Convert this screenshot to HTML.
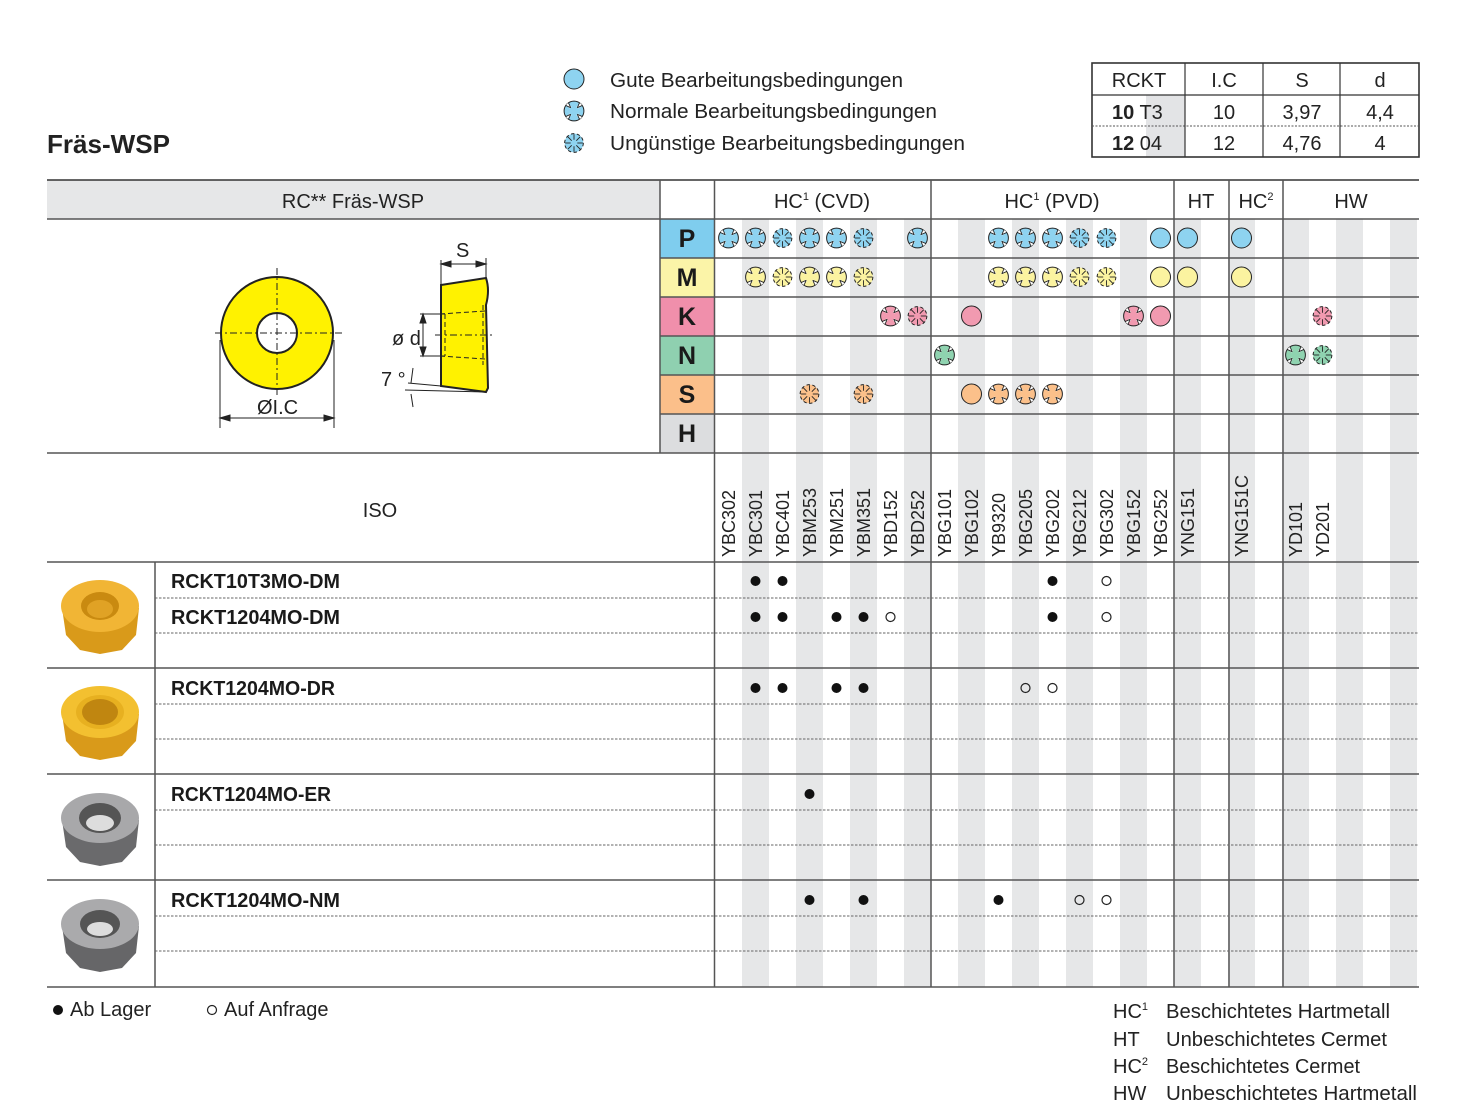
<!DOCTYPE html>
<html><head><meta charset="utf-8"><style>
html,body{margin:0;padding:0;background:#fff;}
svg{display:block;font-family:"Liberation Sans",sans-serif;}
</style></head><body>
<svg width="1458" height="1115" viewBox="0 0 1458 1115" xmlns="http://www.w3.org/2000/svg">
<defs>
<g id="nm" transform="scale(1.1)"><circle r="9" stroke="#222" stroke-width="0.9"/>
<g stroke="#fff" stroke-width="2.2"><line x1="6.4" y1="6.4" x2="3" y2="3"/><line x1="-6.4" y1="6.4" x2="-3" y2="3"/><line x1="6.4" y1="-6.4" x2="3" y2="-3"/><line x1="-6.4" y1="-6.4" x2="-3" y2="-3"/></g>
<g stroke="#222" stroke-width="0.8"><line x1="7.5" y1="5" x2="3" y2="3"/><line x1="5" y1="7.5" x2="3" y2="3"/><line x1="-7.5" y1="5" x2="-3" y2="3"/><line x1="-5" y1="7.5" x2="-3" y2="3"/><line x1="7.5" y1="-5" x2="3" y2="-3"/><line x1="5" y1="-7.5" x2="3" y2="-3"/><line x1="-7.5" y1="-5" x2="-3" y2="-3"/><line x1="-5" y1="-7.5" x2="-3" y2="-3"/></g></g>
<g id="ug" transform="scale(1.1)"><circle r="8.5" stroke="#222" stroke-width="0.9" stroke-dasharray="3 2.3"/>
<g stroke="#222" stroke-width="0.8"><line x1="0" y1="-8" x2="0" y2="-3"/><line x1="0" y1="8" x2="0" y2="3"/><line x1="8" y1="0" x2="3" y2="0"/><line x1="-8" y1="0" x2="-3" y2="0"/><line x1="5.7" y1="5.7" x2="2.1" y2="2.1"/><line x1="-5.7" y1="5.7" x2="-2.1" y2="2.1"/><line x1="5.7" y1="-5.7" x2="2.1" y2="-2.1"/><line x1="-5.7" y1="-5.7" x2="-2.1" y2="-2.1"/></g></g>
<g id="gd"><circle r="10" stroke="#222" stroke-width="1"/></g>
</defs>

<text x="47" y="153" font-size="26" font-weight="bold" fill="#222" textLength="123" lengthAdjust="spacingAndGlyphs">Fräs-WSP</text>

<use href="#gd" x="574" y="79" fill="#8ed3f0"/>
<use href="#nm" x="574" y="111" fill="#8ed3f0"/>
<use href="#ug" x="574" y="143" fill="#8ed3f0"/>
<g font-size="20" fill="#222">
<text x="610" y="87" textLength="293" lengthAdjust="spacingAndGlyphs">Gute Bearbeitungsbedingungen</text>
<text x="610" y="118" textLength="327" lengthAdjust="spacingAndGlyphs">Normale Bearbeitungsbedingungen</text>
<text x="610" y="150" textLength="355" lengthAdjust="spacingAndGlyphs">Ungünstige Bearbeitungsbedingungen</text>
</g>

<rect x="1146" y="95" width="39" height="62" fill="#e3e4e6"/>
<rect x="1092" y="63" width="327" height="94" fill="none" stroke="#333" stroke-width="1.6"/>
<line x1="1092" y1="95" x2="1419" y2="95" stroke="#333" stroke-width="1.2"/>
<line x1="1092" y1="126" x2="1419" y2="126" stroke="#555" stroke-width="1" stroke-dasharray="2 1.5"/>
<g stroke="#333" stroke-width="1.2"><line x1="1185" y1="63" x2="1185" y2="157"/><line x1="1263" y1="63" x2="1263" y2="157"/><line x1="1340" y1="63" x2="1340" y2="157"/></g>
<g font-size="20" fill="#222" text-anchor="middle">
<text x="1139" y="87">RCKT</text><text x="1224" y="87">I.C</text><text x="1302" y="87">S</text><text x="1380" y="87">d</text>
<text x="1224" y="119">10</text><text x="1302" y="119">3,97</text><text x="1380" y="119">4,4</text>
<text x="1224" y="150">12</text><text x="1302" y="150">4,76</text><text x="1380" y="150">4</text>
</g>
<g font-size="20" fill="#222"><text x="1112" y="119"><tspan font-weight="bold">10</tspan> T3</text><text x="1112" y="150"><tspan font-weight="bold">12</tspan> 04</text></g>

<rect x="47" y="180" width="613" height="39" fill="#e6e7e8"/>
<g fill="#e6e7e8">
<rect x="742" y="219" width="27" height="768"/><rect x="796" y="219" width="27" height="768"/><rect x="850" y="219" width="27" height="768"/><rect x="904" y="219" width="27" height="768"/><rect x="958" y="219" width="27" height="768"/><rect x="1012" y="219" width="27" height="768"/><rect x="1066" y="219" width="27" height="768"/><rect x="1120" y="219" width="27" height="768"/><rect x="1174" y="219" width="27" height="768"/><rect x="1228" y="219" width="27" height="768"/><rect x="1282" y="219" width="27" height="768"/><rect x="1336" y="219" width="27" height="768"/><rect x="1390" y="219" width="27" height="768"/>
</g>
<rect x="660" y="219" width="54" height="39" fill="#7fcdee"/>
<rect x="660" y="258" width="54" height="39" fill="#fbf4a8"/>
<rect x="660" y="297" width="54" height="39" fill="#f08fab"/>
<rect x="660" y="336" width="54" height="39" fill="#8fd0b0"/>
<rect x="660" y="375" width="54" height="39" fill="#fbbf8a"/>
<rect x="660" y="414" width="54" height="39" fill="#dcdddf"/>
<g font-size="25" font-weight="bold" fill="#1a1a1a" text-anchor="middle">
<text x="687" y="247">P</text><text x="687" y="286">M</text><text x="687" y="325">K</text><text x="687" y="364">N</text><text x="687" y="403">S</text><text x="687" y="442">H</text>
</g>

<g stroke="#555" stroke-width="1.5">
<line x1="47" y1="180" x2="1419" y2="180" stroke="#333"/>
<line x1="47" y1="219" x2="1419" y2="219"/>
<line x1="660" y1="258" x2="1419" y2="258"/><line x1="660" y1="297" x2="1419" y2="297"/><line x1="660" y1="336" x2="1419" y2="336"/><line x1="660" y1="375" x2="1419" y2="375"/><line x1="660" y1="414" x2="1419" y2="414"/>
<line x1="47" y1="453" x2="1419" y2="453"/>
<line x1="47" y1="562" x2="1419" y2="562"/>
<line x1="47" y1="668" x2="1419" y2="668"/><line x1="47" y1="774" x2="1419" y2="774"/><line x1="47" y1="880" x2="1419" y2="880"/><line x1="47" y1="987" x2="1419" y2="987"/>
<line x1="660" y1="180" x2="660" y2="453"/>
<line x1="714.5" y1="180" x2="714.5" y2="987"/>
<line x1="931" y1="180" x2="931" y2="987"/><line x1="1174" y1="180" x2="1174" y2="987"/><line x1="1229" y1="180" x2="1229" y2="987"/><line x1="1283" y1="180" x2="1283" y2="987"/>
<line x1="155" y1="562" x2="155" y2="987"/>
</g>
<g stroke="#666" stroke-width="1" stroke-dasharray="2.5 1.5">
<line x1="155" y1="598" x2="1419" y2="598"/><line x1="155" y1="633" x2="1419" y2="633"/>
<line x1="155" y1="704" x2="1419" y2="704"/><line x1="155" y1="739" x2="1419" y2="739"/>
<line x1="155" y1="810" x2="1419" y2="810"/><line x1="155" y1="845" x2="1419" y2="845"/>
<line x1="155" y1="916" x2="1419" y2="916"/><line x1="155" y1="951" x2="1419" y2="951"/>
</g>

<g font-size="20" fill="#222" text-anchor="middle">
<text x="353" y="208">RC** Fräs-WSP</text>
<text x="822" y="208">HC<tspan font-size="11" dy="-8">1</tspan><tspan dy="8"> (CVD)</tspan></text>
<text x="1052" y="208">HC<tspan font-size="11" dy="-8">1</tspan><tspan dy="8"> (PVD)</tspan></text>
<text x="1201" y="208">HT</text>
<text x="1256" y="208">HC<tspan font-size="11" dy="-8">2</tspan></text>
<text x="1351" y="208">HW</text>
<text x="380" y="517">ISO</text>
</g>

<g font-size="18" fill="#222">
<text transform="translate(735,557) rotate(-90)">YBC302</text>
<text transform="translate(762,557) rotate(-90)">YBC301</text>
<text transform="translate(789,557) rotate(-90)">YBC401</text>
<text transform="translate(816,557) rotate(-90)">YBM253</text>
<text transform="translate(843,557) rotate(-90)">YBM251</text>
<text transform="translate(870,557) rotate(-90)">YBM351</text>
<text transform="translate(897,557) rotate(-90)">YBD152</text>
<text transform="translate(924,557) rotate(-90)">YBD252</text>
<text transform="translate(951,557) rotate(-90)">YBG101</text>
<text transform="translate(978,557) rotate(-90)">YBG102</text>
<text transform="translate(1005,557) rotate(-90)">YB9320</text>
<text transform="translate(1032,557) rotate(-90)">YBG205</text>
<text transform="translate(1059,557) rotate(-90)">YBG202</text>
<text transform="translate(1086,557) rotate(-90)">YBG212</text>
<text transform="translate(1113,557) rotate(-90)">YBG302</text>
<text transform="translate(1140,557) rotate(-90)">YBG152</text>
<text transform="translate(1167,557) rotate(-90)">YBG252</text>
<text transform="translate(1194,557) rotate(-90)">YNG151</text>
<text transform="translate(1248,557) rotate(-90)">YNG151C</text>
<text transform="translate(1302,557) rotate(-90)">YD101</text>
<text transform="translate(1329,557) rotate(-90)">YD201</text>
</g>

<g fill="#8ed3f0">
<use href="#nm" x="728.5" y="238"/><use href="#nm" x="755.5" y="238"/><use href="#ug" x="782.5" y="238"/><use href="#nm" x="809.5" y="238"/><use href="#nm" x="836.5" y="238"/><use href="#ug" x="863.5" y="238"/><use href="#nm" x="917.5" y="238"/>
<use href="#nm" x="998.5" y="238"/><use href="#nm" x="1025.5" y="238"/><use href="#nm" x="1052.5" y="238"/><use href="#ug" x="1079.5" y="238"/><use href="#ug" x="1106.5" y="238"/>
<use href="#gd" x="1160.5" y="238"/><use href="#gd" x="1187.5" y="238"/><use href="#gd" x="1241.5" y="238"/>
</g>
<g fill="#fbf3a0">
<use href="#nm" x="755.5" y="277"/><use href="#ug" x="782.5" y="277"/><use href="#nm" x="809.5" y="277"/><use href="#nm" x="836.5" y="277"/><use href="#ug" x="863.5" y="277"/>
<use href="#nm" x="998.5" y="277"/><use href="#nm" x="1025.5" y="277"/><use href="#nm" x="1052.5" y="277"/><use href="#ug" x="1079.5" y="277"/><use href="#ug" x="1106.5" y="277"/>
<use href="#gd" x="1160.5" y="277"/><use href="#gd" x="1187.5" y="277"/><use href="#gd" x="1241.5" y="277"/>
</g>
<g fill="#f19ab0">
<use href="#nm" x="890.5" y="316"/><use href="#ug" x="917.5" y="316"/><use href="#gd" x="971.5" y="316"/><use href="#nm" x="1133.5" y="316"/><use href="#gd" x="1160.5" y="316"/><use href="#ug" x="1322.5" y="316"/>
</g>
<g fill="#8fd3b0">
<use href="#nm" x="944.5" y="355"/><use href="#nm" x="1295.5" y="355"/><use href="#ug" x="1322.5" y="355"/>
</g>
<g fill="#fbc08a">
<use href="#ug" x="809.5" y="394"/><use href="#ug" x="863.5" y="394"/><use href="#gd" x="971.5" y="394"/><use href="#nm" x="998.5" y="394"/><use href="#nm" x="1025.5" y="394"/><use href="#nm" x="1052.5" y="394"/>
</g>

<g stroke="#222" stroke-width="1">
<circle cx="277" cy="333" r="56" fill="#fff200" stroke-width="2"/>
<circle cx="277" cy="333" r="20" fill="#fff" stroke-width="2"/>
<line x1="215" y1="333" x2="343" y2="333" stroke-dasharray="7 3 2 3"/>
<line x1="277" y1="268" x2="277" y2="398" stroke-dasharray="7 3 2 3"/>
<line x1="220" y1="340" x2="220" y2="428"/><line x1="334" y1="340" x2="334" y2="428"/>
<line x1="220" y1="418" x2="334" y2="418"/>
<path d="M220 418 l10 -3 v6z M334 418 l-10 -3 v6z" fill="#222"/>
<path d="M441 285 L486 278 Q490 290 486 305 L488 388 Q486 392 486 392 L441 386 Z" fill="#fff200" stroke-width="2"/>
<line x1="441" y1="260" x2="441" y2="285"/><line x1="486" y1="258" x2="486" y2="278"/>
<line x1="441" y1="264" x2="486" y2="264"/>
<path d="M441 264 l10 -3 v6z M486 264 l-10 -3 v6z" fill="#222"/>
<line x1="420" y1="314" x2="445" y2="314"/><line x1="420" y1="356" x2="445" y2="356"/>
<line x1="423" y1="314" x2="423" y2="356"/>
<path d="M423 314 l-3 9 h6z M423 356 l-3 -9 h6z" fill="#222"/>
<line x1="440" y1="314" x2="485" y2="311" stroke-dasharray="5 3"/><line x1="440" y1="356" x2="485" y2="359" stroke-dasharray="5 3"/>
<line x1="445" y1="314" x2="445" y2="356" stroke-dasharray="5 3"/><line x1="483" y1="305" x2="483" y2="365" stroke-dasharray="5 3"/>
<line x1="435" y1="335" x2="492" y2="335" stroke-dasharray="7 3 2 3"/>
<line x1="408" y1="383" x2="441" y2="386"/><line x1="405" y1="390" x2="486" y2="392"/>
<path d="M413 368 L411 383 M411 394 L413 407" />
</g>
<g font-size="20" fill="#222">
<text x="456" y="257">S</text>
<text x="392" y="345">ø d</text>
<text x="381" y="386">7 °</text>
<text x="257" y="414">ØI.C</text>
</g>

<g font-size="20" font-weight="bold" fill="#1a1a1a">
<text x="171" y="588" textLength="169" lengthAdjust="spacingAndGlyphs">RCKT10T3MO-DM</text>
<text x="171" y="624" textLength="169" lengthAdjust="spacingAndGlyphs">RCKT1204MO-DM</text>
<text x="171" y="695" textLength="164" lengthAdjust="spacingAndGlyphs">RCKT1204MO-DR</text>
<text x="171" y="801" textLength="160" lengthAdjust="spacingAndGlyphs">RCKT1204MO-ER</text>
<text x="171" y="907" textLength="169" lengthAdjust="spacingAndGlyphs">RCKT1204MO-NM</text>
</g>

<g>
<path d="M62 608 L66 635 L80 650 L100 654 L122 650 L136 635 L139 608 Z" fill="#d99a1a"/>
<ellipse cx="100" cy="606" rx="39" ry="26" fill="#f1b535"/>
<ellipse cx="100" cy="606" rx="19" ry="14" fill="#c98a10"/>
<ellipse cx="100" cy="609" rx="13" ry="9" fill="#e0a225"/>
<path d="M62 714 L66 741 L80 756 L100 760 L122 756 L136 741 L139 714 Z" fill="#d99a1a"/>
<ellipse cx="100" cy="712" rx="39" ry="26" fill="#f3c030"/>
<ellipse cx="100" cy="712" rx="24" ry="17" fill="#e7b020"/>
<ellipse cx="100" cy="712" rx="18" ry="13" fill="#c08610"/>
<path d="M62 820 L66 847 L80 862 L100 866 L122 862 L136 847 L139 820 Z" fill="#6a6a6c"/>
<ellipse cx="100" cy="818" rx="39" ry="25" fill="#a8a8aa"/>
<ellipse cx="100" cy="818" rx="21" ry="15" fill="#555"/>
<ellipse cx="100" cy="823" rx="14" ry="8" fill="#ddd"/>
<path d="M62 926 L66 953 L80 968 L100 972 L122 968 L136 953 L139 926 Z" fill="#666668"/>
<ellipse cx="100" cy="924" rx="39" ry="25" fill="#aaaaac"/>
<ellipse cx="100" cy="924" rx="20" ry="14" fill="#555"/>
<ellipse cx="100" cy="929" rx="13" ry="7" fill="#ddd"/>
</g>

<g fill="#111">
<circle cx="755.5" cy="581" r="5"/><circle cx="782.5" cy="581" r="5"/><circle cx="1052.5" cy="581" r="5"/>
<circle cx="755.5" cy="617" r="5"/><circle cx="782.5" cy="617" r="5"/><circle cx="836.5" cy="617" r="5"/><circle cx="863.5" cy="617" r="5"/><circle cx="1052.5" cy="617" r="5"/>
<circle cx="755.5" cy="688" r="5"/><circle cx="782.5" cy="688" r="5"/><circle cx="836.5" cy="688" r="5"/><circle cx="863.5" cy="688" r="5"/>
<circle cx="809.5" cy="794" r="5"/>
<circle cx="809.5" cy="900" r="5"/><circle cx="863.5" cy="900" r="5"/><circle cx="998.5" cy="900" r="5"/>
</g>
<g fill="none" stroke="#222" stroke-width="1.2">
<circle cx="1106.5" cy="581" r="4.5"/><circle cx="890.5" cy="617" r="4.5"/><circle cx="1106.5" cy="617" r="4.5"/>
<circle cx="1025.5" cy="688" r="4.5"/><circle cx="1052.5" cy="688" r="4.5"/>
<circle cx="1079.5" cy="900" r="4.5"/><circle cx="1106.5" cy="900" r="4.5"/>
</g>

<circle cx="58" cy="1010" r="5" fill="#111"/>
<circle cx="212" cy="1010" r="4.5" fill="none" stroke="#222" stroke-width="1.2"/>
<g font-size="20" fill="#222">
<text x="70" y="1016">Ab Lager</text>
<text x="224" y="1016">Auf Anfrage</text>
<text x="1113" y="1018">HC<tspan font-size="11" dy="-8">1</tspan></text>
<text x="1113" y="1046">HT</text>
<text x="1113" y="1073">HC<tspan font-size="11" dy="-8">2</tspan></text>
<text x="1113" y="1100">HW</text>
<text x="1166" y="1018" textLength="224" lengthAdjust="spacingAndGlyphs">Beschichtetes Hartmetall</text>
<text x="1166" y="1046" textLength="221" lengthAdjust="spacingAndGlyphs">Unbeschichtetes Cermet</text>
<text x="1166" y="1073" textLength="194" lengthAdjust="spacingAndGlyphs">Beschichtetes Cermet</text>
<text x="1166" y="1100" textLength="251" lengthAdjust="spacingAndGlyphs">Unbeschichtetes Hartmetall</text>
</g>
</svg>
</body></html>
